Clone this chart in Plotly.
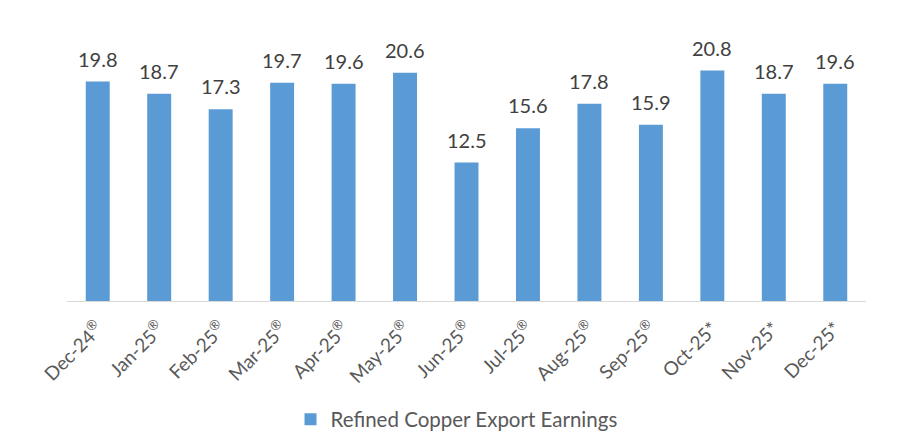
import plotly.graph_objects as go

categories = ["Dec-24<sup>®</sup>", "Jan-25<sup>®</sup>", "Feb-25<sup>®</sup>", "Mar-25<sup>®</sup>",
              "Apr-25<sup>®</sup>", "May-25<sup>®</sup>", "Jun-25<sup>®</sup>", "Jul-25<sup>®</sup>",
              "Aug-25<sup>®</sup>", "Sep-25<sup>®</sup>", "Oct-25*", "Nov-25*", "Dec-25*"]
values = [19.8, 18.7, 17.3, 19.7, 19.6, 20.6, 12.5, 15.6, 17.8, 15.9, 20.8, 18.7, 19.6]
series_name = "Refined Copper Export Earnings"

fig = go.Figure()
fig.add_trace(go.Bar(
    x=categories, y=values, name=series_name,
    marker=dict(color="#5B9BD5", line=dict(width=0)),
    width=0.39,
    cliponaxis=False,
))
for c, v in zip(categories, values):
    fig.add_annotation(x=c, y=v, text=f"{v:.1f}", showarrow=False,
                       yanchor="bottom", yshift=9,
                       font=dict(size=20, color="#404040", family="Lato"))
fig.update_layout(
    width=917, height=445,
    margin=dict(l=59, r=59, t=16, b=152),
    paper_bgcolor="white", plot_bgcolor="white",
    font=dict(family="Lato", color="#595959"),
    showlegend=True,
    legend=dict(orientation="h", x=0.4875, xanchor="center", y=-0.355, yanchor="top",
                font=dict(size=20.5, color="#595959")),
    xaxis=dict(tickangle=-45, tickfont=dict(size=19, color="#595959"),
               showline=True, linecolor="#D9D9D9", linewidth=1, ticks="",
               ticklabelstandoff=8,
               showgrid=False, automargin=False),
    yaxis=dict(range=[0, 25], visible=False, showgrid=False, automargin=False),
    bargap=0.61,
)
fig.write_html("out.html")
